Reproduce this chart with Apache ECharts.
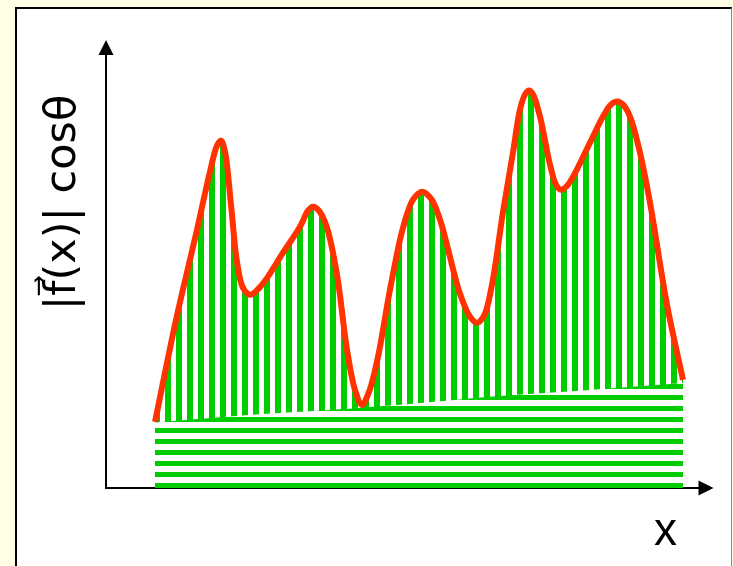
<!DOCTYPE html>
<html>
<head>
<meta charset="utf-8">
<script src="https://cdn.jsdelivr.net/npm/echarts@6/dist/echarts.min.js"></script>
<style>
  html, body { margin: 0; padding: 0; }
  body { width: 733px; height: 566px; background: #fffde3; position: relative; overflow: hidden; }
  #panel { position: absolute; left: 15px; top: 7px; width: 717px; height: 600px; background: #fff;
           border-left: 2px solid #000; border-top: 2px solid #000; border-right: 1px solid #888; box-sizing: border-box; }
  #chart { position: absolute; left: 0; top: 0; width: 733px; height: 566px; }
</style>
</head>
<body>
<div id="panel"></div>
<div id="chart"></div>
<script>
// Red curve |f(x)| cos(theta): key points
var curveX = [8.17, 11.67, 15.17, 17.33, 18.5, 19.17, 19.83, 20.83, 21.83, 22.83, 24.0,
              26.0, 29.5, 32.33, 33.67, 34.5, 35.5, 36.83, 38.5, 40.17, 41.5, 42.67,
              43.83, 45.33, 47.33, 49.5, 51.17, 52.67, 54.17, 55.67, 59.0, 60.67, 61.83,
              63.0, 64.33, 66.17, 67.83, 69.0, 69.83, 70.5, 71.17, 72.33, 74.0, 75.0, 75.83,
              77.0, 80.67, 82.83, 84.17, 85.17, 86.17, 87.33, 89.0, 90.67, 93.5, 96.17];
var curveY = [15.0, 38.18, 58.64, 71.82, 77.73, 78.86, 76.36, 64.32, 51.36, 45.45, 43.86,
              46.14, 53.41, 59.32, 62.95, 63.86, 62.95, 59.09, 48.41, 31.36, 22.27, 18.86,
              21.82, 29.77, 45.0, 59.09, 65.45, 67.27, 65.68, 60.91, 44.09, 38.86, 37.5,
              39.09, 46.14, 62.73, 76.14, 85.91, 89.32, 90.23, 89.32, 84.32, 73.41, 68.86, 67.73,
              68.86, 78.41, 84.32, 87.05, 87.73, 87.05, 84.32, 76.14, 64.77, 41.59, 24.55];
// Lower boundary of the striped region
var baseX = [8.17, 26.17, 37.33, 50.67, 65.67, 80.67, 96.17];
var baseY = [14.89, 16.82, 17.73, 19.09, 20.91, 22.27, 23.86];
// Axis titles
var yTitle = '|f\u20D7(x)| cos\u03B8';
var xTitle = 'x';

var GREEN = '#00cc00', RED = '#ff3300';

function zip(a, b) { return a.map(function (v, i) { return [v, b[i]]; }); }

// Centripetal Catmull-Rom spline through pixel points -> SVG path data (without initial M)
function splineSegments(p) {
  var s = '';
  var n = p.length;
  function dist(a, b) { return Math.pow(Math.hypot(a[0] - b[0], a[1] - b[1]), 0.5) || 1e-6; }
  for (var i = 0; i < n - 1; i++) {
    var p0 = p[Math.max(0, i - 1)], p1 = p[i], p2 = p[i + 1], p3 = p[Math.min(n - 1, i + 2)];
    if (i === 0) p0 = [2 * p1[0] - p2[0], 2 * p1[1] - p2[1]];
    if (i + 2 > n - 1) p3 = [2 * p2[0] - p1[0], 2 * p2[1] - p1[1]];
    var d1 = dist(p0, p1), d2 = dist(p1, p2), d3 = dist(p2, p3);
    var A = 2 * d1 * d1 + 3 * d1 * d2 + d2 * d2, B = 3 * d1 * (d1 + d2);
    var C = 2 * d3 * d3 + 3 * d3 * d2 + d2 * d2, D = 3 * d3 * (d3 + d2);
    var c1x = (d1 * d1 * p2[0] - d2 * d2 * p0[0] + A * p1[0]) / B;
    var c1y = (d1 * d1 * p2[1] - d2 * d2 * p0[1] + A * p1[1]) / B;
    var c2x = (d3 * d3 * p1[0] - d2 * d2 * p3[0] + C * p2[0]) / D;
    var c2y = (d3 * d3 * p1[1] - d2 * d2 * p3[1] + C * p2[1]) / D;
    s += ' C' + c1x + ' ' + c1y + ' ' + c2x + ' ' + c2y + ' ' + p2[0] + ' ' + p2[1];
  }
  return s;
}

var vCan = document.createElement('canvas');
vCan.width = 11; vCan.height = 11;
var vc = vCan.getContext('2d');
vc.fillStyle = GREEN; vc.fillRect(0, 0, 6, 11);

var hCan = document.createElement('canvas');
hCan.width = 11; hCan.height = 11;
var hc = hCan.getContext('2d');
hc.fillStyle = '#fff'; hc.fillRect(0, 0, 11, 11);
hc.fillStyle = GREEN; hc.fillRect(0, 10, 11, 1); hc.fillRect(0, 0, 11, 4);

var chart = echarts.init(document.getElementById('chart'), null, { renderer: 'canvas' });
var axisLine = { show: true, onZero: true, symbol: ['none', 'triangle'], symbolSize: [15, 15],
                 lineStyle: { color: '#000', width: 2 } };

function curvePixels(api) { return curveX.map(function (x, i) { return api.coord([x, curveY[i]]); }); }

chart.setOption({
  animation: false,
  backgroundColor: 'transparent',
  grid: { left: 106, right: 27, top: 47.5, bottom: 78, containLabel: false },
  xAxis: { type: 'value', min: 0, max: 100, axisLine: axisLine, axisTick: { show: false },
           axisLabel: { show: false }, splitLine: { show: false } },
  yAxis: { type: 'value', min: 0, max: 100, axisLine: axisLine, axisTick: { show: false },
           axisLabel: { show: false }, splitLine: { show: false } },
  series: [
    { type: 'custom', coordinateSystem: 'cartesian2d', z: 2, silent: true,
      data: [[curveX[0], curveY[0]]],
      renderItem: function (params, api) {
        var p = curvePixels(api);
        var y0 = api.coord([curveX[0], 0])[1];
        var d = 'M' + p[0][0] + ' ' + p[0][1] + splineSegments(p) +
                ' L' + p[p.length - 1][0] + ' ' + y0 + ' L' + p[0][0] + ' ' + y0 + ' Z';
        return { type: 'path', shape: { pathData: d },
                 style: { fill: { image: vCan, repeat: 'repeat' }, stroke: null } };
      } },
    { type: 'line', data: zip(baseX, baseY), smooth: 0.3, symbol: 'none', z: 3,
      lineStyle: { width: 0, opacity: 0 },
      areaStyle: { color: { image: hCan, repeat: 'repeat' }, opacity: 1 } },
    { type: 'custom', coordinateSystem: 'cartesian2d', z: 4, silent: true,
      data: [[curveX[0], curveY[0]]],
      renderItem: function (params, api) {
        var p = curvePixels(api);
        var d = 'M' + p[0][0] + ' ' + p[0][1] + splineSegments(p);
        return { type: 'path', shape: { pathData: d },
                 style: { fill: null, stroke: RED, lineWidth: 6, lineCap: 'butt', lineJoin: 'round' } };
      } }
  ],
  graphic: [
    { type: 'text', x: 64, y: 202.5, rotation: Math.PI / 2,
      style: { text: yTitle, font: '43px "DejaVu Sans"', align: 'center', verticalAlign: 'middle', fill: '#000' } },
    { type: 'text', x: 665.5, y: 532,
      style: { text: xTitle, font: '46px "Liberation Sans"', align: 'center', verticalAlign: 'middle', fill: '#000' } }
  ]
});
</script>
</body>
</html>
